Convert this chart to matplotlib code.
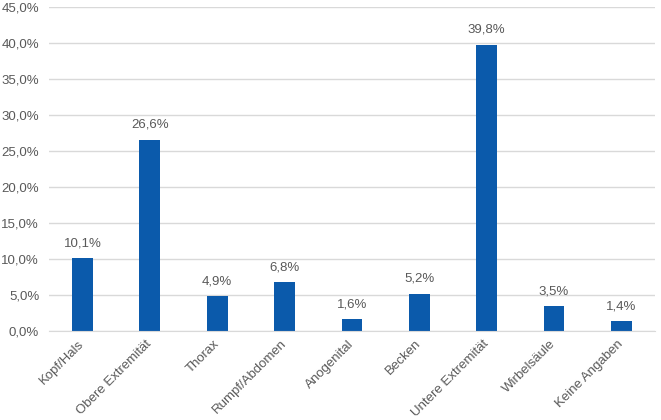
import numpy as np
import matplotlib
matplotlib.use("Agg")
import matplotlib.pyplot as plt
from matplotlib.ticker import FuncFormatter

matplotlib.rcParams.update({"font.family": ["Liberation Sans", "DejaVu Sans"], "font.size": 9.5})

CATEGORIES = ["Kopf/Hals", "Obere Extremität", "Thorax", "Rumpf/Abdomen", "Anogenital",
              "Becken", "Untere Extremität", "Wirbelsäule", "Keine Angaben"]
VALUES = [10.1, 26.6, 4.9, 6.8, 1.6, 5.2, 39.8, 3.5, 1.4]
Y_TICKS = [0, 5, 10, 15, 20, 25, 30, 35, 40, 45]

BAR_COLOR = "#0B5AAB"
TEXT_COLOR = "#595959"
GRID_COLOR = "#D9D9D9"


def pct(v, _=None):
    return f"{v:.1f}%".replace(".", ",")


fig = plt.figure(figsize=(6.61, 4.20), dpi=100)
ax = fig.add_axes([0.074, 0.212, 0.917, 0.771])

x = np.arange(len(CATEGORIES))
ax.bar(x, VALUES, width=0.31, color=BAR_COLOR, zorder=3)

for xi, v in zip(x, VALUES):
    ax.text(xi, v + 1.2, pct(v), ha="center", va="bottom", fontsize=9.5, color=TEXT_COLOR)

ax.set_xlim(-0.5, len(CATEGORIES) - 0.5)
ax.set_ylim(0, 45)
ax.set_yticks(Y_TICKS)
ax.yaxis.set_major_formatter(FuncFormatter(pct))
ax.grid(axis="y", color=GRID_COLOR, linewidth=1, zorder=0)

ax.set_xticks(x)
ax.set_xticklabels(CATEGORIES, rotation=45, ha="right", va="center", rotation_mode="anchor")
ax.tick_params(axis="both", length=0, colors=TEXT_COLOR, labelsize=9.5)
ax.tick_params(axis="x", pad=8)
ax.tick_params(axis="y", pad=7)

for side in ["top", "right", "left"]:
    ax.spines[side].set_visible(False)
ax.spines["bottom"].set_color(GRID_COLOR)
ax.spines["bottom"].set_zorder(4)

fig.savefig("out.png", dpi=100)
